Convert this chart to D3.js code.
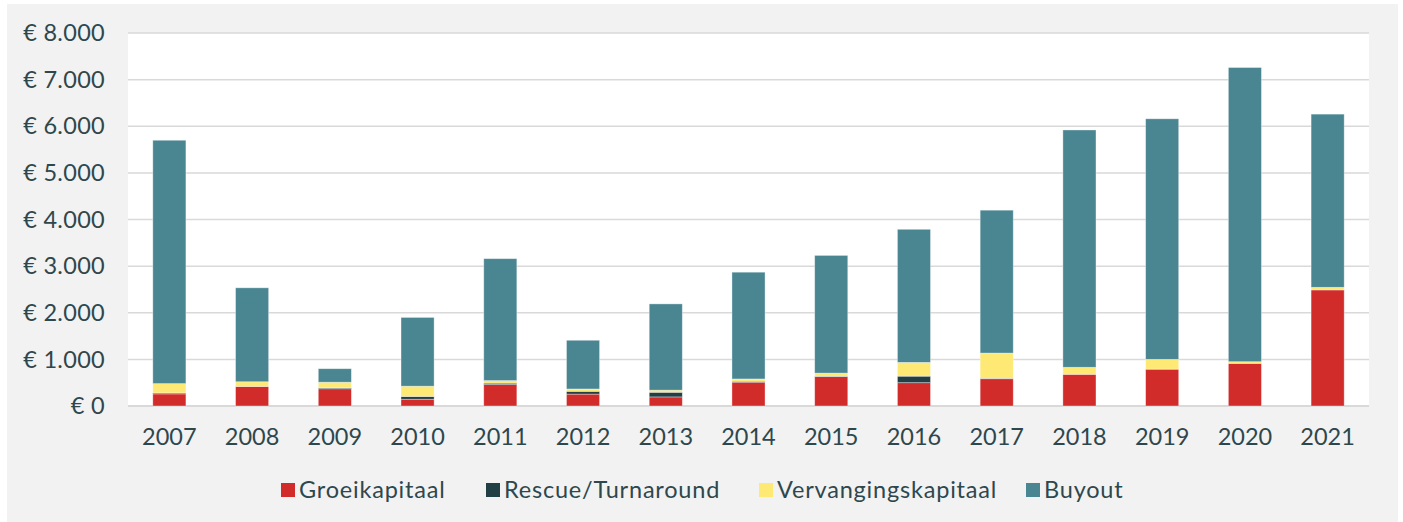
<!DOCTYPE html>
<html>
<head>
<meta charset="utf-8">
<script src="https://cdn.jsdelivr.net/npm/d3@7"></script>
<style>
  html, body { margin: 0; padding: 0; background: #fff; }
  svg text { font-family: Lato, "Open Sans", sans-serif; fill: #2e474d; }
</style>
</head>
<body>
<script>
var years = ['2007', '2008', '2009', '2010', '2011', '2012', '2013', '2014',
             '2015', '2016', '2017', '2018', '2019', '2020', '2021'];
var groeikapitaal     = [260, 420, 370, 145, 460, 255, 195, 510, 630, 500, 585, 680, 790, 915, 2490];
var rescue            = [ 20,   0,  20,  60,  30,  60, 100,  20,  10, 140,  10,   0,   0,   0,    0];
var vervangingskapitaal = [200, 100, 120, 220,  55,  50,  45,  50,  65, 295, 540, 150, 210,  35,   55];
var buyout            = [5220, 2015, 290, 1475, 2615, 1045, 1850, 2290, 2525, 2855, 3065, 5090, 5160, 6310, 3715];
var yTicks = [0, 1000, 2000, 3000, 4000, 5000, 6000, 7000, 8000];

var seriesNames = ['Groeikapitaal', 'Rescue/Turnaround', 'Vervangingskapitaal', 'Buyout'];
var colors = ['#d12b2a', '#233f46', '#fde973', '#4a8692'];

var W = 1403, H = 522;
var plot = { left: 128, right: 1369, top: 33, bottom: 406 };

var svg = d3.select('body').append('svg')
    .attr('width', W)
    .attr('height', H);

// grey panel
svg.append('rect')
    .attr('x', 7).attr('y', 4)
    .attr('width', 1391).attr('height', 518)
    .attr('fill', '#f2f2f2');

svg.append('rect')
    .attr('x', plot.left).attr('y', plot.top)
    .attr('width', plot.right - plot.left).attr('height', plot.bottom - plot.top)
    .attr('fill', '#fff');

var x = d3.scaleBand()
    .domain(years)
    .range([plot.left, plot.right])
    .paddingInner(0.6)
    .paddingOuter(0.3);

var y = d3.scaleLinear()
    .domain([0, 8000])
    .range([plot.bottom, plot.top]);

var fmt = function(v) {
  return '€ ' + d3.format(',')(v).replace(/,/g, '.');
};

// gridlines
svg.append('g').selectAll('line')
    .data(yTicks)
    .enter()
    .append('line')
    .attr('x1', plot.left)
    .attr('x2', plot.right)
    .attr('y1', function(d) { return y(d); })
    .attr('y2', function(d) { return y(d); })
    .attr('stroke', '#d9d9d9')
    .attr('stroke-width', function(d) { return d === 0 ? 2 : 1.5; });

// y labels
svg.append('g').selectAll('text')
    .data(yTicks)
    .enter()
    .append('text')
    .attr('x', 105)
    .attr('y', function(d) { return y(d); })
    .attr('dy', '0.35em')
    .attr('text-anchor', 'end')
    .style('font-size', '23.5px')
    .style('letter-spacing', '0.3px')
    .text(fmt);

// stacked bars
var table = years.map(function(yr, i) {
  return { year: yr, g: groeikapitaal[i], r: rescue[i], v: vervangingskapitaal[i], b: buyout[i] };
});
var stack = d3.stack().keys(['g', 'r', 'v', 'b'])(table);

svg.append('g').selectAll('g')
    .data(stack)
    .enter()
    .append('g')
    .attr('fill', function(d, i) { return colors[i]; })
    .selectAll('rect')
    .data(function(d) { return d; })
    .enter()
    .append('rect')
    .attr('x', function(d) { return x(d.data.year); })
    .attr('width', x.bandwidth())
    .attr('y', function(d) { return y(d[1]); })
    .attr('height', function(d) { return Math.max(0, y(d[0]) - y(d[1])); })
    .attr('stroke', '#fff')
    .attr('stroke-opacity', 0.45)
    .attr('stroke-width', 0.8);

// x labels
svg.append('g').selectAll('text')
    .data(years)
    .enter()
    .append('text')
    .attr('x', function(d) { return x(d) + x.bandwidth() / 2; })
    .attr('y', 437)
    .attr('dy', '0.35em')
    .attr('text-anchor', 'middle')
    .style('font-size', '23.5px')
    .text(function(d) { return d; });

// legend
var legendX = [281, 486, 759, 1026];
var legend = svg.append('g').selectAll('g')
    .data(seriesNames)
    .enter()
    .append('g')
    .attr('transform', function(d, i) { return 'translate(' + legendX[i] + ',490)'; });

legend.append('rect')
    .attr('x', 0).attr('y', -7)
    .attr('width', 14).attr('height', 14)
    .attr('fill', function(d, i) { return colors[i]; });

legend.append('text')
    .attr('x', 18)
    .attr('dy', '0.35em')
    .style('font-size', '23.5px')
    .style('letter-spacing', '0.8px')
    .text(function(d) { return d; });
</script>
</body>
</html>
